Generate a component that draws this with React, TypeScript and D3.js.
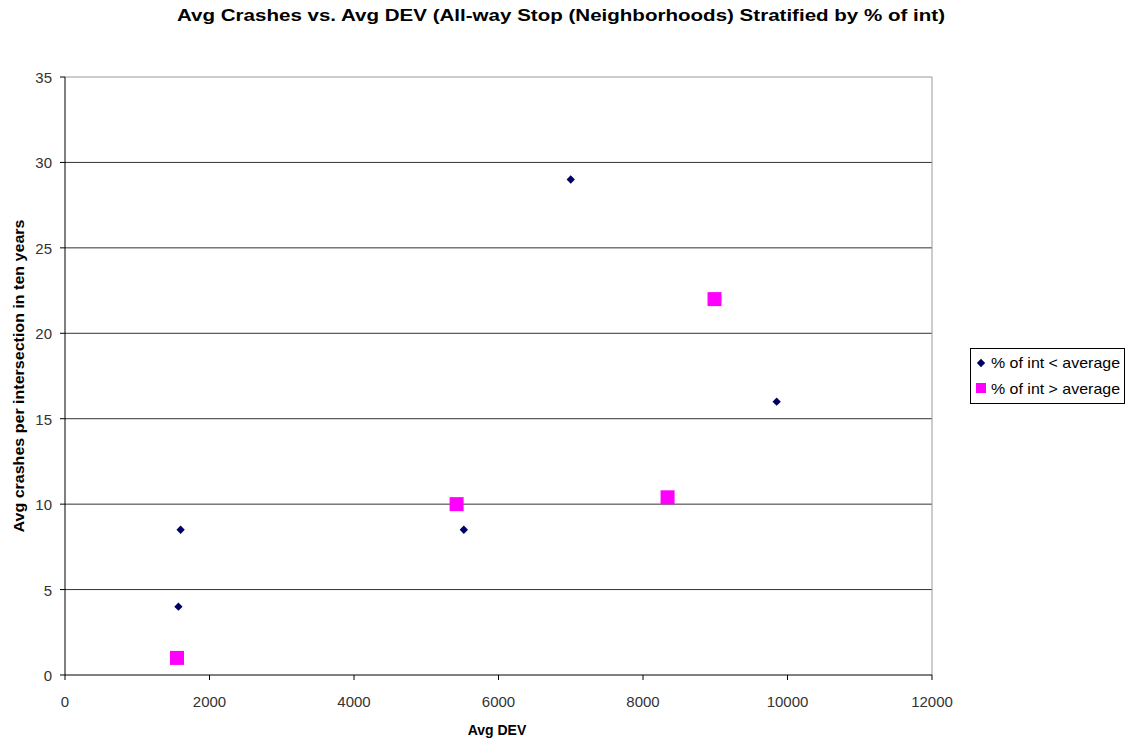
import React from "react";
import * as d3 from "d3";

const seriesNames = ["% of int < average", "% of int > average"];
const belowX = [1600, 1570, 5520, 7000, 9850];
const belowY = [8.5, 4, 8.5, 29, 16];
const aboveX = [1550, 5420, 8340, 8990];
const aboveY = [1, 10, 10.4, 22];
const xTicks = [0, 2000, 4000, 6000, 8000, 10000, 12000];
const yTicks = [0, 5, 10, 15, 20, 25, 30, 35];

const W = 1126, H = 742;
const L = 65, R = 932, T = 77, B = 675;
const font = "Arial, 'Liberation Sans', sans-serif";

export default function App() {
  const x = d3.scaleLinear().domain([0, 12000]).range([L, R]);
  const y = d3.scaleLinear().domain([0, 35]).range([B, T]);
  const diamond = d3.symbol().type(d3.symbolDiamond2).size(44)();
  return (
    <svg width={W} height={H} style={{ position: "absolute", left: 0, top: 0, background: "#fff" }} fontFamily={font}>
      <rect x={0} y={0} width={W} height={H} fill="#fff" />
      <text x={561} y={21} textAnchor="middle" fontSize={17} fontWeight="bold" fill="#000"
        textLength={768} lengthAdjust="spacingAndGlyphs">
        Avg Crashes vs. Avg DEV (All-way Stop (Neighborhoods) Stratified by % of int)
      </text>
      {yTicks.filter(t => t > 0).map(t => (
        <line key={t} x1={L} x2={R} y1={y(t)} y2={y(t)} stroke={t === 35 ? "#999" : "#333"} strokeWidth={1} />
      ))}
      <line x1={R} x2={R} y1={T} y2={B} stroke="#999" />
      <line x1={L} x2={L} y1={T} y2={B} stroke="#000" />
      <line x1={L} x2={R} y1={B} y2={B} stroke="#000" />
      {yTicks.map(t => (
        <g key={t}>
          <line x1={L - 5} x2={L} y1={y(t)} y2={y(t)} stroke="#000" />
          <text x={L - 13} y={y(t) + 6} textAnchor="end" fontSize={15} fill="#333">{t}</text>
        </g>
      ))}
      {xTicks.map(t => (
        <g key={t}>
          <line x1={x(t)} x2={x(t)} y1={B} y2={B + 5} stroke="#000" />
          <text x={x(t)} y={B + 32} textAnchor="middle" fontSize={15} fill="#333">{t}</text>
        </g>
      ))}
      <text x={497} y={735} textAnchor="middle" fontSize={14} fontWeight="bold">Avg DEV</text>
      <text transform={`translate(24,376) rotate(-90)`} textAnchor="middle" fontSize={15} fontWeight="bold"
        textLength={313} lengthAdjust="spacingAndGlyphs">
        Avg crashes per intersection in ten years
      </text>
      {belowX.map((v, i) => (
        <path key={"b" + i} d={diamond} transform={`translate(${x(v)},${y(belowY[i])})`} fill="#000066" />
      ))}
      {aboveX.map((v, i) => (
        <rect key={"a" + i} x={x(v) - 7} y={y(aboveY[i]) - 7} width={14} height={14} fill="#ff00ff" />
      ))}
      <rect x={970.5} y={348.5} width={154} height={55} fill="#fff" stroke="#000" />
      <path d={diamond} transform="translate(981,363)" fill="#000066" />
      <text x={991} y={368} fontSize={15} fill="#000" textLength={129} lengthAdjust="spacingAndGlyphs">{seriesNames[0]}</text>
      <rect x={976} y={383} width={10} height={10} fill="#ff00ff" />
      <text x={991} y={394} fontSize={15} fill="#000" textLength={129} lengthAdjust="spacingAndGlyphs">{seriesNames[1]}</text>
    </svg>
  );
}
